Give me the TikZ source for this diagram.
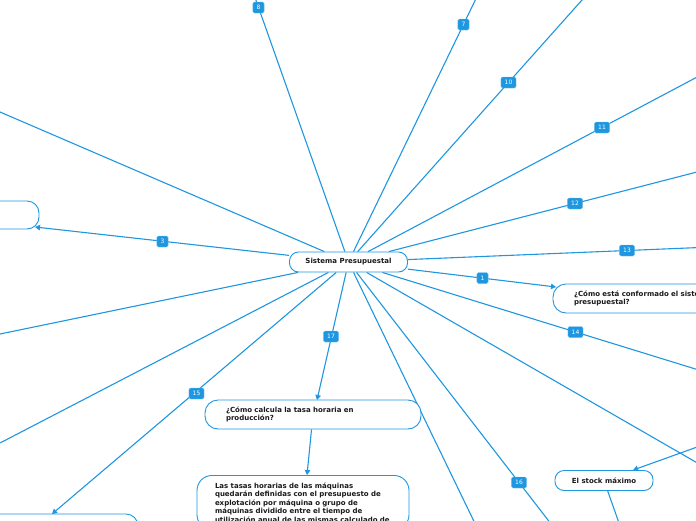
\documentclass[tikz,border=0pt]{standalone}
\usepackage{fontspec}
\setmainfont{DejaVu Sans}
\usetikzlibrary{arrows.meta,calc,backgrounds}
\definecolor{mmblue}{RGB}{30,150,224}
\definecolor{mmtext}{RGB}{26,26,26}
\begin{document}
\begin{tikzpicture}[x=1pt,y=-1pt,
  conn/.style={draw=mmblue,line width=1.1pt},
  arr/.style={conn,-{Triangle[length=5pt,width=5.5pt]}},
  topic/.style={draw=mmblue,line width=0.9pt,fill=white,rounded corners=#1,text=mmtext,font=\fontsize{7}{8.4}\selectfont\bfseries},
  topic/.default=9pt,
  num/.style={fill=mmblue,draw=mmblue!60!white,line width=0.4pt,rounded corners=1.5pt,text=white,font=\fontsize{6}{6}\selectfont,inner xsep=3.7pt,inner ysep=0pt,minimum height=11pt}
]
\useasboundingbox (0,0) rectangle (696,520);
\clip (0,0) rectangle (696,520);

% topics
\node[topic, minimum width=118pt, minimum height=20pt, inner sep=0pt] (S) at (348.5,262) {Sistema Presupuestal};
\node[topic=13pt, text width=178pt, inner xsep=21pt, minimum height=29pt, align=left] (A) at (663,298.5) {¿Cómo está conformado el sistema\\presupuestal?};
\node[topic=12pt, minimum width=189pt, minimum height=28pt] (B) at (-55.5,215) {};
\node[topic=13pt, text width=174pt, inner xsep=21pt, minimum height=29pt, align=left] (C) at (313,414.5) {¿Cómo calcula la tasa horaria en\\producción?};
\node[topic=15pt, text width=176pt, inner xsep=18pt, inner ysep=7.5pt, align=left, anchor=north] (D) at (303,475) {Las tasas horarias de las máquinas\\quedarán definidas con el presupuesto de\\explotación por máquina o grupo de\\máquinas dividido entre el tiempo de\\utilización anual de las mismas calculado de};
\node[topic, minimum width=98pt, minimum height=20pt, inner sep=0pt] (E) at (604,480.5) {El stock máximo};
\node[topic=12pt, minimum width=238pt, minimum height=86pt] (F) at (19,557) {};

% label positions
\coordinate (p1) at (482.5,278);
\coordinate (p3) at (162.5,241.5);
\coordinate (p7) at (463.5,24.5);
\coordinate (p8) at (258.5,7.5);
\coordinate (p10) at (508.5,82.5);
\coordinate (p11) at (602,127.5);
\coordinate (p12) at (575,203.5);
\coordinate (p13) at (627,250.5);
\coordinate (p14) at (575.5,332);
\coordinate (p15) at (196.5,393.5);
\coordinate (p16) at (519,482.5);
\coordinate (p17) at (331,336.5);

% free ends
\coordinate (t1) at (556,287);
\coordinate (t3) at (35,227);
\coordinate (t15) at (52,514);
\coordinate (t17) at (317,400);
\coordinate (tD) at (307,475);
\coordinate (sE) at (740,431.6);
\coordinate (eOut) at (625,540);
\coordinate (f1) at (0,112);
\coordinate (f2) at (0,334);
\coordinate (f3) at (0,443);
\coordinate (f4) at (483,540);
\coordinate (f5) at (720,476);

\begin{pgfonlayer}{background}
\begin{scope}
\clip (0,0) rectangle (696,520);
\draw[arr] (S) -- (t1);
\draw[arr] (S) -- (t3);
\draw[arr] (S) -- (t15);
\draw[arr] (S) -- (t17);
\draw[conn] (S) -- ($(S)!3!(p7)$);
\draw[conn] (S) -- ($(S)!3!(p8)$);
\draw[conn] (S) -- ($(S)!3!(p10)$);
\draw[conn] (S) -- ($(S)!3!(p11)$);
\draw[conn] (S) -- ($(S)!3!(p12)$);
\draw[conn] (S) -- ($(S)!3!(p13)$);
\draw[conn] (S) -- ($(S)!3!(p14)$);
\draw[conn] (S) -- ($(S)!3!(p16)$);
\draw[conn] (S) -- (f1);
\draw[conn] (S) -- (f2);
\draw[conn] (S) -- (f3);
\draw[conn] (S) -- (f4);
\draw[conn] (S) -- (f5);
\draw[arr] (C) -- (tD);
\draw[arr] (sE) -- (E);
\draw[conn] (E) -- (eOut);
\end{scope}
\end{pgfonlayer}

% number labels
\node[num] (L1) at (p1) {1};
\node[num] (L3) at (p3) {3};
\node[num] (L7) at (p7) {7};
\node[num] (L8) at (p8) {8};
\node[num] (L10) at (p10) {10};
\node[num] (L11) at (p11) {11};
\node[num] (L12) at (p12) {12};
\node[num] (L13) at (p13) {13};
\node[num] (L14) at (p14) {14};
\node[num] (L15) at (p15) {15};
\node[num] (L16) at (p16) {16};
\node[num] (L17) at (p17) {17};
\end{tikzpicture}
\end{document}
